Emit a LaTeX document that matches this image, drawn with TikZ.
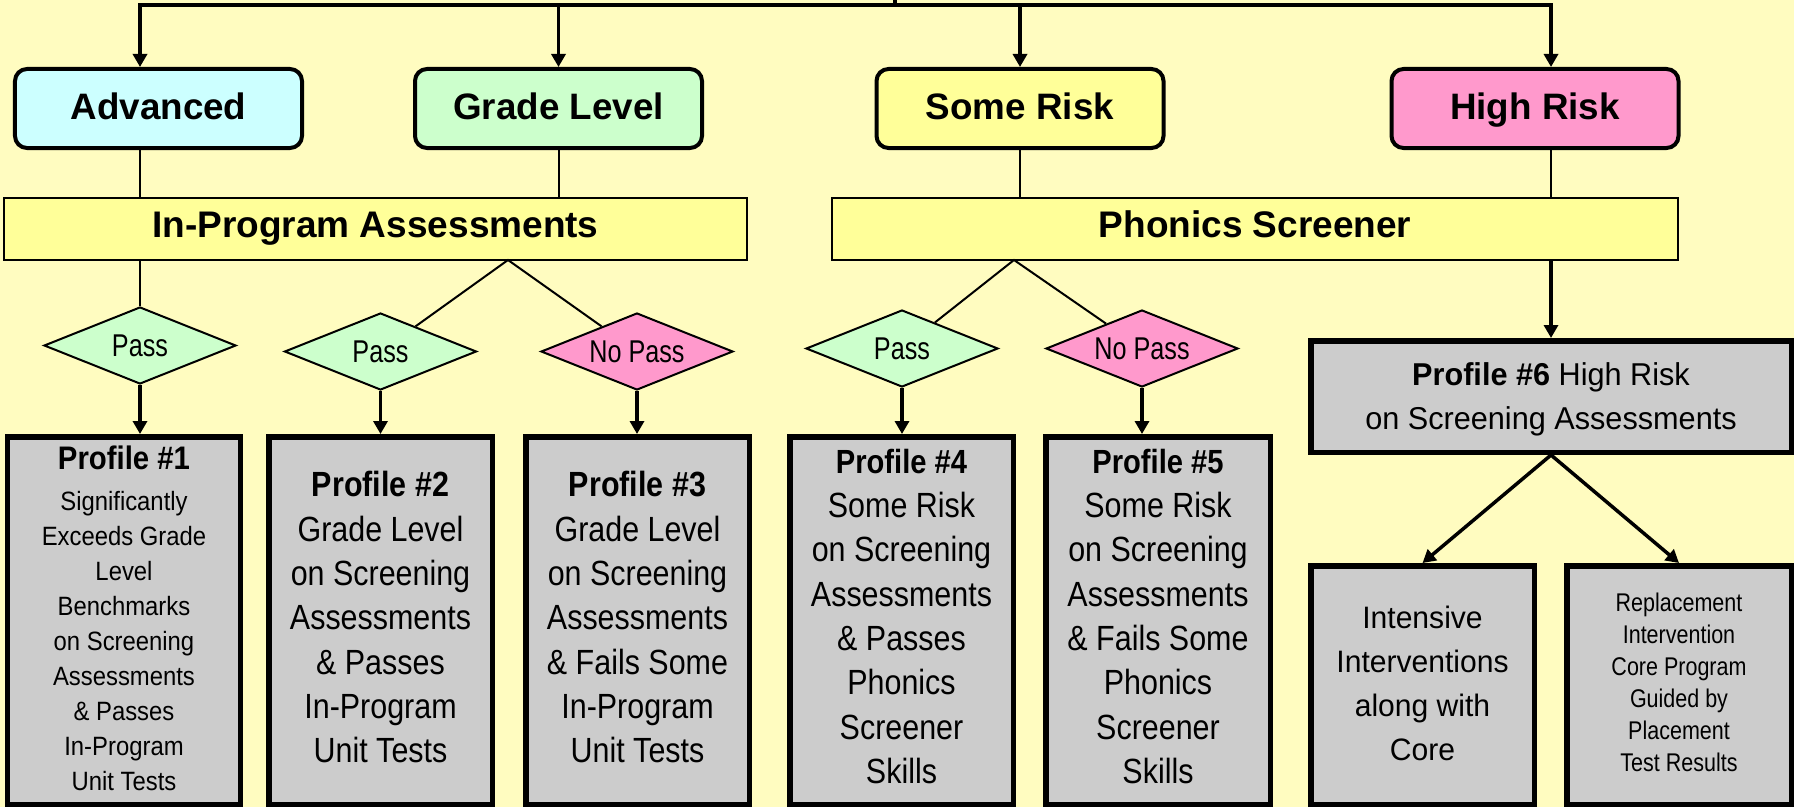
\documentclass[tikz,border=0pt]{standalone}
\usepackage{fontspec}
\setmainfont{Liberation Sans}
% condensed cuts of the same face for the narrow boxes
\newfontfamily\diafont[FakeStretch=0.80]{Liberation Sans}
\newfontfamily\proffont[FakeStretch=0.87]{Liberation Sans}
\newfontfamily\profonefont[FakeStretch=0.90]{Liberation Sans}
\newfontfamily\repfont[FakeStretch=0.84]{Liberation Sans}
\newfontfamily\widefont[FakeStretch=0.97]{Liberation Sans}
\usetikzlibrary{shapes.geometric,arrows.meta}

\definecolor{bgyellow}{RGB}{255,252,192}
\definecolor{baryellow}{RGB}{255,255,153}
\definecolor{advcyan}{RGB}{204,255,255}
\definecolor{gradegreen}{RGB}{204,255,204}
\definecolor{riskyellow}{RGB}{255,255,153}
\definecolor{riskpink}{RGB}{255,153,204}
\definecolor{profgray}{RGB}{204,204,204}

\tikzset{
  level/.style={draw, line width=4bp, rounded corners=12bp, minimum width=287bp,
    minimum height=79bp, inner sep=0pt, text height=26.4bp, text depth=5.4bp,
    font=\fontsize{36.8bp}{40bp}\selectfont\bfseries},
  bar/.style={draw, line width=2.2bp, fill=baryellow, minimum height=62bp, inner sep=0pt,
    text height=26.5bp, text depth=9.1bp, font=\fontsize{37bp}{40bp}\selectfont\bfseries},
  check/.style={diamond, draw, line width=2bp, aspect=2.45, minimum width=192bp,
    minimum height=77bp, inner sep=0pt, font=\diafont\fontsize{31.5bp}{34bp}\selectfont},
  profile/.style={draw, line width=5.5bp, fill=profgray, inner sep=0pt, align=center},
  tall/.style={profile, minimum height=368.25bp},
  link/.style={line width=2bp},
  trunk/.style={line width=4bp},
  flow/.style={line width=3.5bp, -{Triangle[length=13bp,width=14bp]}}
}

\begin{document}
\begin{tikzpicture}[x=1bp, y=-1bp]
\useasboundingbox (0,0) rectangle (1794,807);
\fill[bgyellow] (0,0) rectangle (1794,807);

% performance levels
\node[level, fill=advcyan]    (adv)  at (158.5,108.5) {Advanced};
\node[level, fill=gradegreen] (grd)  at (558.5,108.5) {Grade Level};
\node[level, fill=riskyellow] (some) at (1020,108.5)  {Some Risk};
\node[level, fill=riskpink]   (high) at (1535,108.5)  {High Risk};

% assessments
\node[bar, minimum width=743bp] (inprog) at (375.5,229) {In-Program Assessments};
\node[bar, minimum width=846bp] (phon)   at (1255,229)  {Phonics Screener};

% outcomes
\node[check, fill=gradegreen] (d1) at (140,345.5)   {Pass};
\node[check, fill=gradegreen] (d2) at (380.5,351.5) {Pass};
\node[check, fill=riskpink]   (d3) at (637,351.5)   {No Pass};
\node[check, fill=gradegreen] (d4) at (902,348.5)   {Pass};
\node[check, fill=riskpink]   (d5) at (1142,348.5)  {No Pass};

% profiles
\node[tall, minimum width=232.5bp, text depth=5bp,
      font=\profonefont\fontsize{26.5bp}{35bp}\selectfont] (p1) at (124,620.9)
  {{\bfseries\fontsize{32.6bp}{35bp}\selectfont Profile \#1}\\[6bp]
   Significantly\\Exceeds Grade\\Level\\Benchmarks\\on Screening\\Assessments\\\& Passes\\In-Program\\Unit Tests};
\node[tall, minimum width=223.5bp, text depth=8bp,
      font=\proffont\fontsize{35bp}{44.3bp}\selectfont] (p2) at (380.5,620.9)
  {{\bfseries Profile \#2}\\[0.5bp]
   Grade Level\\on Screening\\Assessments\\\& Passes\\In-Program\\Unit Tests};
\node[tall, minimum width=223.5bp, text depth=8bp,
      font=\proffont\fontsize{35bp}{44.3bp}\selectfont] (p3) at (637.5,620.9)
  {{\bfseries Profile \#3}\\[0.5bp]
   Grade Level\\on Screening\\Assessments\\\& Fails Some\\In-Program\\Unit Tests};
\node[tall, minimum width=223.5bp, text depth=9.4bp,
      font=\proffont\fontsize{35bp}{44.3bp}\selectfont] (p4) at (901.5,620.9)
  {{\bfseries\fontsize{33.5bp}{44.3bp}\selectfont Profile \#4}\\
   Some Risk\\on Screening\\Assessments\\\& Passes\\Phonics\\Screener\\Skills};
\node[tall, minimum width=224.5bp, text depth=9.4bp,
      font=\proffont\fontsize{35bp}{44.3bp}\selectfont] (p5) at (1158,620.9)
  {{\bfseries\fontsize{33.5bp}{44.3bp}\selectfont Profile \#5}\\
   Some Risk\\on Screening\\Assessments\\\& Fails Some\\Phonics\\Screener\\Skills};
\node[profile, minimum width=480.5bp, minimum height=111.5bp, text depth=0.5bp,
      font=\widefont\fontsize{31.6bp}{44.3bp}\selectfont] (p6) at (1551,396.5)
  {{\bfseries Profile \#6} High Risk\\on Screening Assessments};

% high-risk options
\node[profile, minimum width=223.5bp, minimum height=239.25bp, text depth=4.6bp,
      font=\widefont\fontsize{31bp}{44bp}\selectfont] (int) at (1422.5,685.4)
  {Intensive\\Interventions\\along with\\Core};
\node[profile, minimum width=224.5bp, minimum height=239.25bp, text depth=5.4bp,
      font=\repfont\fontsize{25.6bp}{32bp}\selectfont] (rep) at (1679,685.4)
  {Replacement\\Intervention\\Core Program\\Guided by\\Placement\\Test Results};

% distribution from the top
\coordinate (root) at (895,-10);
\coordinate (bus) at (895,5);
\draw[trunk] (root) -- (bus);
\draw[flow] (bus) -| (adv.north -| d1);
\draw[flow] (bus) -| (grd.north);
\draw[flow] (bus) -| (some.north);
\draw[flow] (bus) -| (high.north -| p6);

% levels into assessments
\draw[link] (adv.south -| d1) -- (inprog.north -| d1);
\draw[link] (grd.south) -- (inprog.north -| grd);
\draw[link] (some.south) -- (phon.north -| some);
\draw[link] (high.south -| p6) -- (phon.north -| p6);

% assessments into outcomes
\coordinate (forkA) at (508,260);
\coordinate (forkB) at (1014,260);
\draw[link] (inprog.south -| d1) -- (d1.north);
\draw[link] (d2) -- (forkA) -- (d3);
\draw[link] (d4) -- (forkB) -- (d5);

% outcomes into profiles
\draw[flow] (d1.south) -- (d1.south |- p1.north);
\draw[flow] (d2.south) -- (d2.south |- p2.north);
\draw[flow] (d3.south) -- (d3.south |- p3.north);
\draw[flow] (d4.south) -- (d4.south |- p4.north);
\draw[flow] (d5.south) -- (d5.south |- p5.north);
\draw[flow] (phon.south -| p6) -- (p6.north);
\draw[flow] (p6.south) -- (int.north);
\draw[flow] (p6.south) -- (rep.north);
\end{tikzpicture}
\end{document}
